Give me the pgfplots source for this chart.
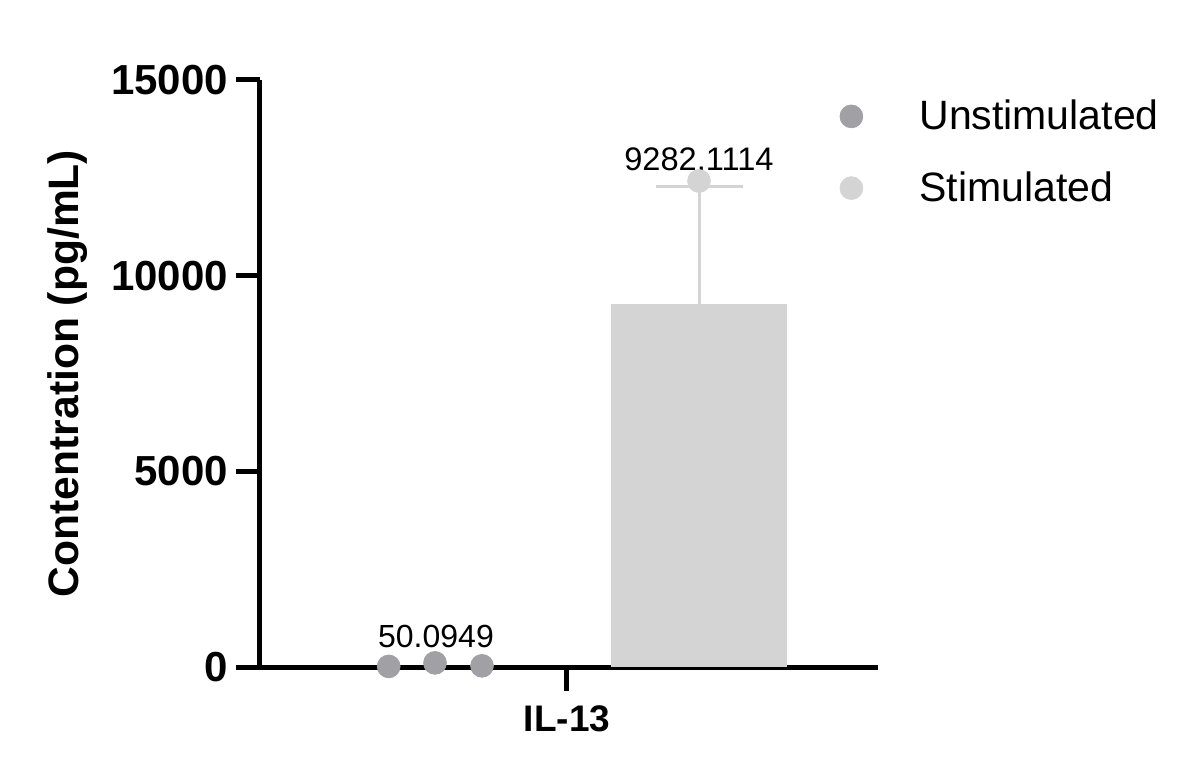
\documentclass[border=0pt]{standalone}
\usepackage{fontspec}
\setmainfont{Liberation Sans}
\usepackage{pgfplots}
\pgfplotsset{compat=1.18}
\definecolor{unstim}{RGB}{160,160,165}
\definecolor{stim}{RGB}{212,212,212}
\begin{document}
\begin{tikzpicture}
\useasboundingbox (-130pt,-55pt) rectangle (470pt,333.5pt);
\begin{axis}[
  scale only axis, width=309pt, height=293.5pt,
  xmin=0, xmax=618, ymin=0, ymax=15000,
  axis lines=left,
  axis line style={-, line width=2.5pt},
  clip=false,
  xtick={307}, xticklabels={IL-13},
  ytick={0,5000,10000,15000},
  tick align=outside, major tick length=12pt,
  tick style={line width=2.5pt, black},
  scaled y ticks=false,
  /pgf/number format/assume math mode=true,
  yticklabel style={/pgf/number format/1000 sep={}, font=\bfseries\fontsize{21}{25}\selectfont, xshift=-0.5pt},
  xticklabel style={font=\bfseries\fontsize{18.5}{22}\selectfont, yshift=-4pt},
  ylabel={Contentration (pg/mL)},
  ylabel style={font=\bfseries\fontsize{21.3}{25}\selectfont, at={(axis description cs:-0.311,0.5)}, anchor=center},
  legend style={draw=none, fill=none, legend cell align=left, at={(axis cs:579,14600)}, anchor=north west,
    font=\fontsize{20.5}{24}\selectfont, row sep=15.5pt, inner sep=0pt},
  legend image code/.code={\draw[#1] plot coordinates {(0pt,0pt)}; \path[draw=none] (-6pt,0pt) -- (32pt,0pt);},
]
% stimulated bar (mean) and upper error bar
\addplot[ybar, bar width=176, bar shift=0pt, fill=stim, draw=none, forget plot] coordinates {(439,9282.1114)};
\addplot[stim, line width=1.5pt, forget plot] coordinates {(439,9282) (439,12270)};
\addplot[stim, line width=1.5pt, forget plot] coordinates {(395.5,12270) (482.5,12270)};

\addplot[only marks, mark=*, mark size=5.7pt, unstim] coordinates {(128.7,15) (175,105) (222,30.3)};
\addlegendentry{Unstimulated}
\addplot[only marks, mark=*, mark size=5.7pt, stim] coordinates {(391,7713) (439,12419) (487,7714)};
\addlegendentry{Stimulated}

\node[anchor=base, font=\fontsize{16}{19}\selectfont] at (axis cs:176,503) {50.0949};
\node[anchor=base, font=\fontsize{16.3}{19}\selectfont] at (axis cs:439,12683) {9282.1114};
\end{axis}
\end{tikzpicture}
\end{document}
